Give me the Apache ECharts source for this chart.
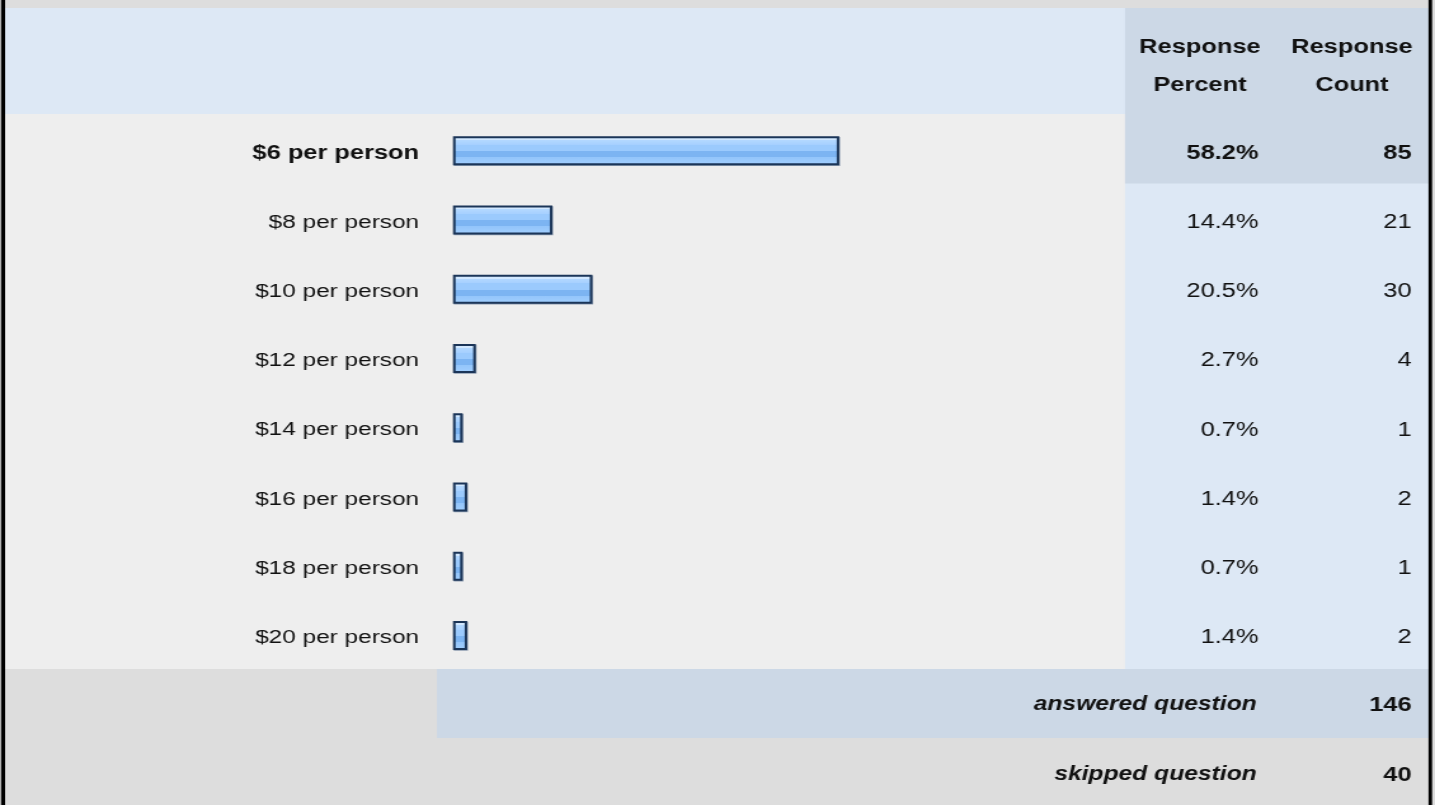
<!DOCTYPE html>
<html>
<head>
<meta charset="utf-8">
<script src="https://cdn.jsdelivr.net/npm/echarts@6/dist/echarts.min.js"></script>
<style>
  html, body { margin: 0; padding: 0; background: #dddddd; overflow: hidden; }
  /* chart is laid out at 1130px and stretched to the 1435px page width */
  #chart { width: 1130px; height: 805px; transform: scaleX(1.269912); transform-origin: 0 0; }
</style>
</head>
<body>
<div id="chart"></div>
<script>
// Survey answer options
const categories = ['$6 per person', '$8 per person', '$10 per person', '$12 per person',
                    '$14 per person', '$16 per person', '$18 per person', '$20 per person'];
// Response percent for each option
const percents = [58.2, 14.4, 20.5, 2.7, 0.7, 1.4, 0.7, 1.4];
// Response count for each option
const counts = [85, 21, 30, 4, 1, 2, 1, 2];
// Summary rows
const summaryLabels = ['answered question', 'skipped question'];
const summaryCounts = [146, 40];
const headerPercent = 'Response\nPercent';
const headerCount = 'Response\nCount';

const FONT = '"Liberation Sans", Arial, Helvetica, sans-serif';
const FS = 20;
const FS_CAT = 19.2;
const FS_SUM = 19.4;
const TXT = '#111111';

const chart = echarts.init(document.getElementById('chart'));

// glossy banded blue fill for the bars
const barFill = new echarts.graphic.LinearGradient(0, 0, 0, 1, [
  { offset: 0.00, color: '#d2e8ff' },
  { offset: 0.14, color: '#d2e8ff' },
  { offset: 0.14, color: '#b3d8ff' },
  { offset: 0.30, color: '#a6d0ff' },
  { offset: 0.30, color: '#9bcafd' },
  { offset: 0.52, color: '#9bcafd' },
  { offset: 0.52, color: '#7cb4f2' },
  { offset: 0.72, color: '#7cb4f2' },
  { offset: 0.72, color: '#93c5fb' },
  { offset: 1.00, color: '#a2cffe' }
]);

const GRID = { left: 357.7, width: 515.8, top: 116, height: 554 };
const BAR_H = 27;
const LABEL_PAD = [5, 0, 0, 0];

function rect(x, y, w, h, color) {
  return { type: 'rect', z: -10, silent: true, shape: { x, y, width: w, height: h }, style: { fill: color } };
}
function text(x, y, str, opts) {
  return {
    type: 'text', z: 10, silent: true, x, y,
    style: Object.assign({ text: str, fill: TXT, font: `bold ${FS}px ${FONT}`, textVerticalAlign: 'middle' }, opts)
  };
}

const graphics = [
  // header row
  rect(4, 8, 882, 106, '#dde8f5'),
  rect(885.9, 8, 240, 106, '#ccd8e6'),
  // answer rows
  rect(4, 114, 882, 555, '#eeeeee'),
  rect(885.9, 114, 240, 555, '#dde8f5'),
  rect(885.9, 114, 240, 69.4, '#ccd8e6'),
  // summary rows
  rect(344.1, 669, 782, 69, '#ccd8e6'),
  // frame
  rect(0.8, 0, 3.2, 805, '#000000'),
  rect(1124.9, 0, 2.8, 805, '#000000'),
  // headers
  text(944.9, 66, headerPercent, { textAlign: 'center', lineHeight: 38 }),
  text(1064.6, 66, headerCount, { textAlign: 'center', lineHeight: 38 }),
  // summary
  text(989.6, 705, summaryLabels[0], { textAlign: 'right', font: `italic bold ${FS_SUM}px ${FONT}` }),
  text(1111.6, 705, String(summaryCounts[0]), { textAlign: 'right' }),
  text(989.6, 775, summaryLabels[1], { textAlign: 'right', font: `italic bold ${FS_SUM}px ${FONT}` }),
  text(1111.6, 775, String(summaryCounts[1]), { textAlign: 'right' })
];

function labelAxis(data, position, offset, margin, fontSize) {
  return {
    type: 'category',
    data,
    inverse: true,
    position,
    offset,
    axisLine: { show: false },
    axisTick: { show: false },
    splitLine: { show: false },
    axisLabel: {
      margin,
      align: 'right',
      padding: LABEL_PAD,
      fontFamily: FONT,
      fontSize,
      color: TXT,
      // the leading option is set in bold
      formatter: (v, i) => (i === 0 ? '{b|' + v + '}' : v),
      rich: { b: { fontWeight: 'bold', fontFamily: FONT, fontSize: FS, color: TXT } }
    }
  };
}

const option = {
  backgroundColor: '#dddddd',
  animation: false,
  grid: Object.assign({ outerBoundsMode: 'none', containLabel: false }, GRID),
  xAxis: { type: 'value', min: 0, max: 100, show: false },
  yAxis: [
    labelAxis(categories, 'left', 0, 27.7, FS_CAT),
    labelAxis(percents.map(p => p.toFixed(1) + '%'), 'right', 117.5, 0, FS),
    labelAxis(counts.map(String), 'right', 238.1, 0, FS)
  ],
  graphic: { elements: graphics },
  series: [{
    type: 'custom',
    xAxisIndex: 0,
    yAxisIndex: 0,
    encode: { x: 0, y: 1 },
    data: percents.map((p, i) => [p, i]),
    renderItem(params, api) {
      const v = api.value(0);
      const idx = api.value(1);
      const start = api.coord([0, idx]);
      const end = api.coord([v, idx]);
      // the bar frame sits outside the value length
      const w = end[0] - start[0] + 2;
      const y = start[1] - BAR_H / 2;
      return {
        type: 'group',
        children: [
          { type: 'rect', shape: { x: start[0] + 0.6, y: y + 0.8, width: w, height: BAR_H },
            style: { fill: 'none', stroke: '#8d9cb0', lineWidth: 2 } },
          { type: 'rect', shape: { x: start[0], y, width: w, height: BAR_H },
            style: { fill: barFill, stroke: '#1b3558', lineWidth: 2 } }
        ]
      };
    }
  }]
};

chart.setOption(option);
</script>
</body>
</html>
